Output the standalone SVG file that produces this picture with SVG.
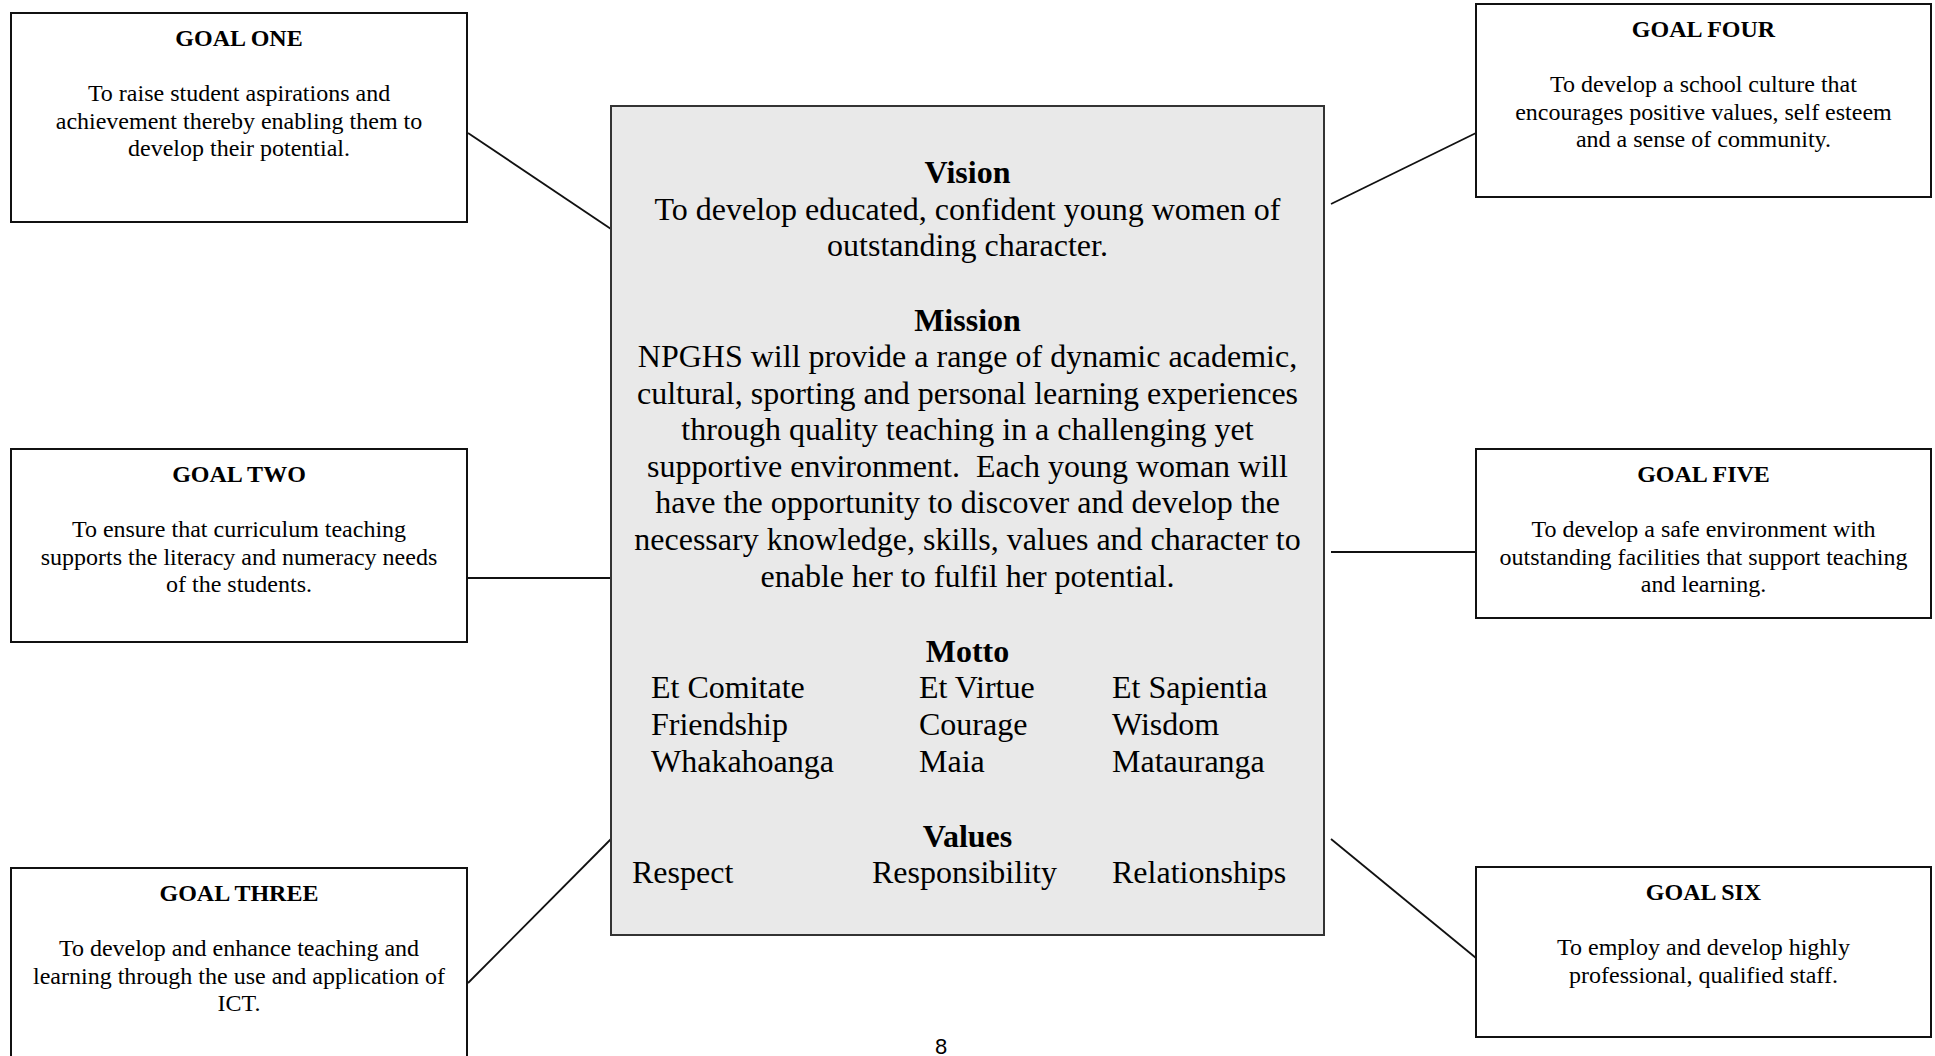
<svg xmlns="http://www.w3.org/2000/svg" width="1935" height="1056" viewBox="0 0 1935 1056">
<style>
.box{fill:#ffffff;stroke:#111;stroke-width:2}
.center{fill:#e9e9e9;stroke:#333;stroke-width:2}
.conn line{stroke:#111;stroke-width:1.8}
.t{font-family:"Liberation Serif","Times New Roman",serif;font-size:24px;fill:#000;text-anchor:middle}
.h{font-family:"Liberation Serif","Times New Roman",serif;font-size:24px;font-weight:bold;fill:#000;text-anchor:middle}
.c{font-family:"Liberation Serif","Times New Roman",serif;font-size:32px;fill:#000;text-anchor:middle}
.ch{font-family:"Liberation Serif","Times New Roman",serif;font-size:32px;font-weight:bold;fill:#000;text-anchor:middle}
.cl{font-family:"Liberation Serif","Times New Roman",serif;font-size:32px;fill:#000}
</style>
<rect width="1935" height="1056" fill="#ffffff"/>
<g id="connectors" class="conn">
<line x1="468" y1="133" x2="611" y2="229"/>
<line x1="468" y1="578" x2="611" y2="578"/>
<line x1="468" y1="983" x2="611" y2="839"/>
<line x1="1331" y1="204" x2="1476" y2="133"/>
<line x1="1331" y1="552" x2="1476" y2="552"/>
<line x1="1331" y1="839" x2="1476" y2="958"/>
</g>
<g id="center">
<rect class="center" x="611" y="106" width="713" height="829"/>
<text class="ch" x="967.5" y="183">Vision</text>
<text class="c" x="967.5" y="220">To develop educated, confident young women of</text>
<text class="c" x="967.5" y="256">outstanding character.</text>
<text class="ch" x="967.5" y="331">Mission</text>
<text class="c" x="967.5" y="367">NPGHS will provide a range of dynamic academic,</text>
<text class="c" x="967.5" y="403.6">cultural, sporting and personal learning experiences</text>
<text class="c" x="967.5" y="440.2">through quality teaching in a challenging yet</text>
<text class="c" x="967.5" y="476.8" style="white-space:pre">supportive environment.  Each young woman will</text>
<text class="c" x="967.5" y="513.4">have the opportunity to discover and develop the</text>
<text class="c" x="967.5" y="550">necessary knowledge, skills, values and character to</text>
<text class="c" x="967.5" y="586.6">enable her to fulfil her potential.</text>
<text class="ch" x="967.5" y="662">Motto</text>
<text class="cl" x="651" y="698">Et Comitate</text>
<text class="cl" x="919" y="698">Et Virtue</text>
<text class="cl" x="1112" y="698">Et Sapientia</text>
<text class="cl" x="651" y="735">Friendship</text>
<text class="cl" x="919" y="735">Courage</text>
<text class="cl" x="1112" y="735">Wisdom</text>
<text class="cl" x="651" y="772">Whakahoanga</text>
<text class="cl" x="919" y="772">Maia</text>
<text class="cl" x="1112" y="772">Matauranga</text>
<text class="ch" x="967.5" y="847">Values</text>
<text class="cl" x="632" y="883">Respect</text>
<text class="cl" x="872" y="883">Responsibility</text>
<text class="cl" x="1112" y="883">Relationships</text>
</g>
<g id="goal-one">
<rect class="box" x="11" y="13" width="456" height="209"/>
<text class="h" x="239" y="46">GOAL ONE</text>
<text class="t" x="239" y="101">To raise student aspirations and</text>
<text class="t" x="239" y="128.5">achievement thereby enabling them to</text>
<text class="t" x="239" y="156">develop their potential.</text>
</g>
<g id="goal-two">
<rect class="box" x="11" y="449" width="456" height="193"/>
<text class="h" x="239" y="482">GOAL TWO</text>
<text class="t" x="239" y="537">To ensure that curriculum teaching</text>
<text class="t" x="239" y="564.5">supports the literacy and numeracy needs</text>
<text class="t" x="239" y="592">of the students.</text>
</g>
<g id="goal-three">
<rect class="box" x="11" y="868" width="456" height="210"/>
<text class="h" x="239" y="901">GOAL THREE</text>
<text class="t" x="239" y="956">To develop and enhance teaching and</text>
<text class="t" x="239" y="983.5">learning through the use and application of</text>
<text class="t" x="239" y="1011">ICT.</text>
</g>
<g id="goal-four">
<rect class="box" x="1476" y="4" width="455" height="193"/>
<text class="h" x="1703.5" y="37">GOAL FOUR</text>
<text class="t" x="1703.5" y="92">To develop a school culture that</text>
<text class="t" x="1703.5" y="119.5">encourages positive values, self esteem</text>
<text class="t" x="1703.5" y="147">and a sense of community.</text>
</g>
<g id="goal-five">
<rect class="box" x="1476" y="449" width="455" height="169"/>
<text class="h" x="1703.5" y="482">GOAL FIVE</text>
<text class="t" x="1703.5" y="537">To develop a safe environment with</text>
<text class="t" x="1703.5" y="564.5">outstanding facilities that support teaching</text>
<text class="t" x="1703.5" y="592">and learning.</text>
</g>
<g id="goal-six">
<rect class="box" x="1476" y="867" width="455" height="170"/>
<text class="h" x="1703.5" y="900">GOAL SIX</text>
<text class="t" x="1703.5" y="955">To employ and develop highly</text>
<text class="t" x="1703.5" y="982.5">professional, qualified staff.</text>
</g>
<text x="941" y="1054" font-family="Liberation Sans, Arial, sans-serif" font-size="22" text-anchor="middle" fill="#000">8</text>
</svg>
